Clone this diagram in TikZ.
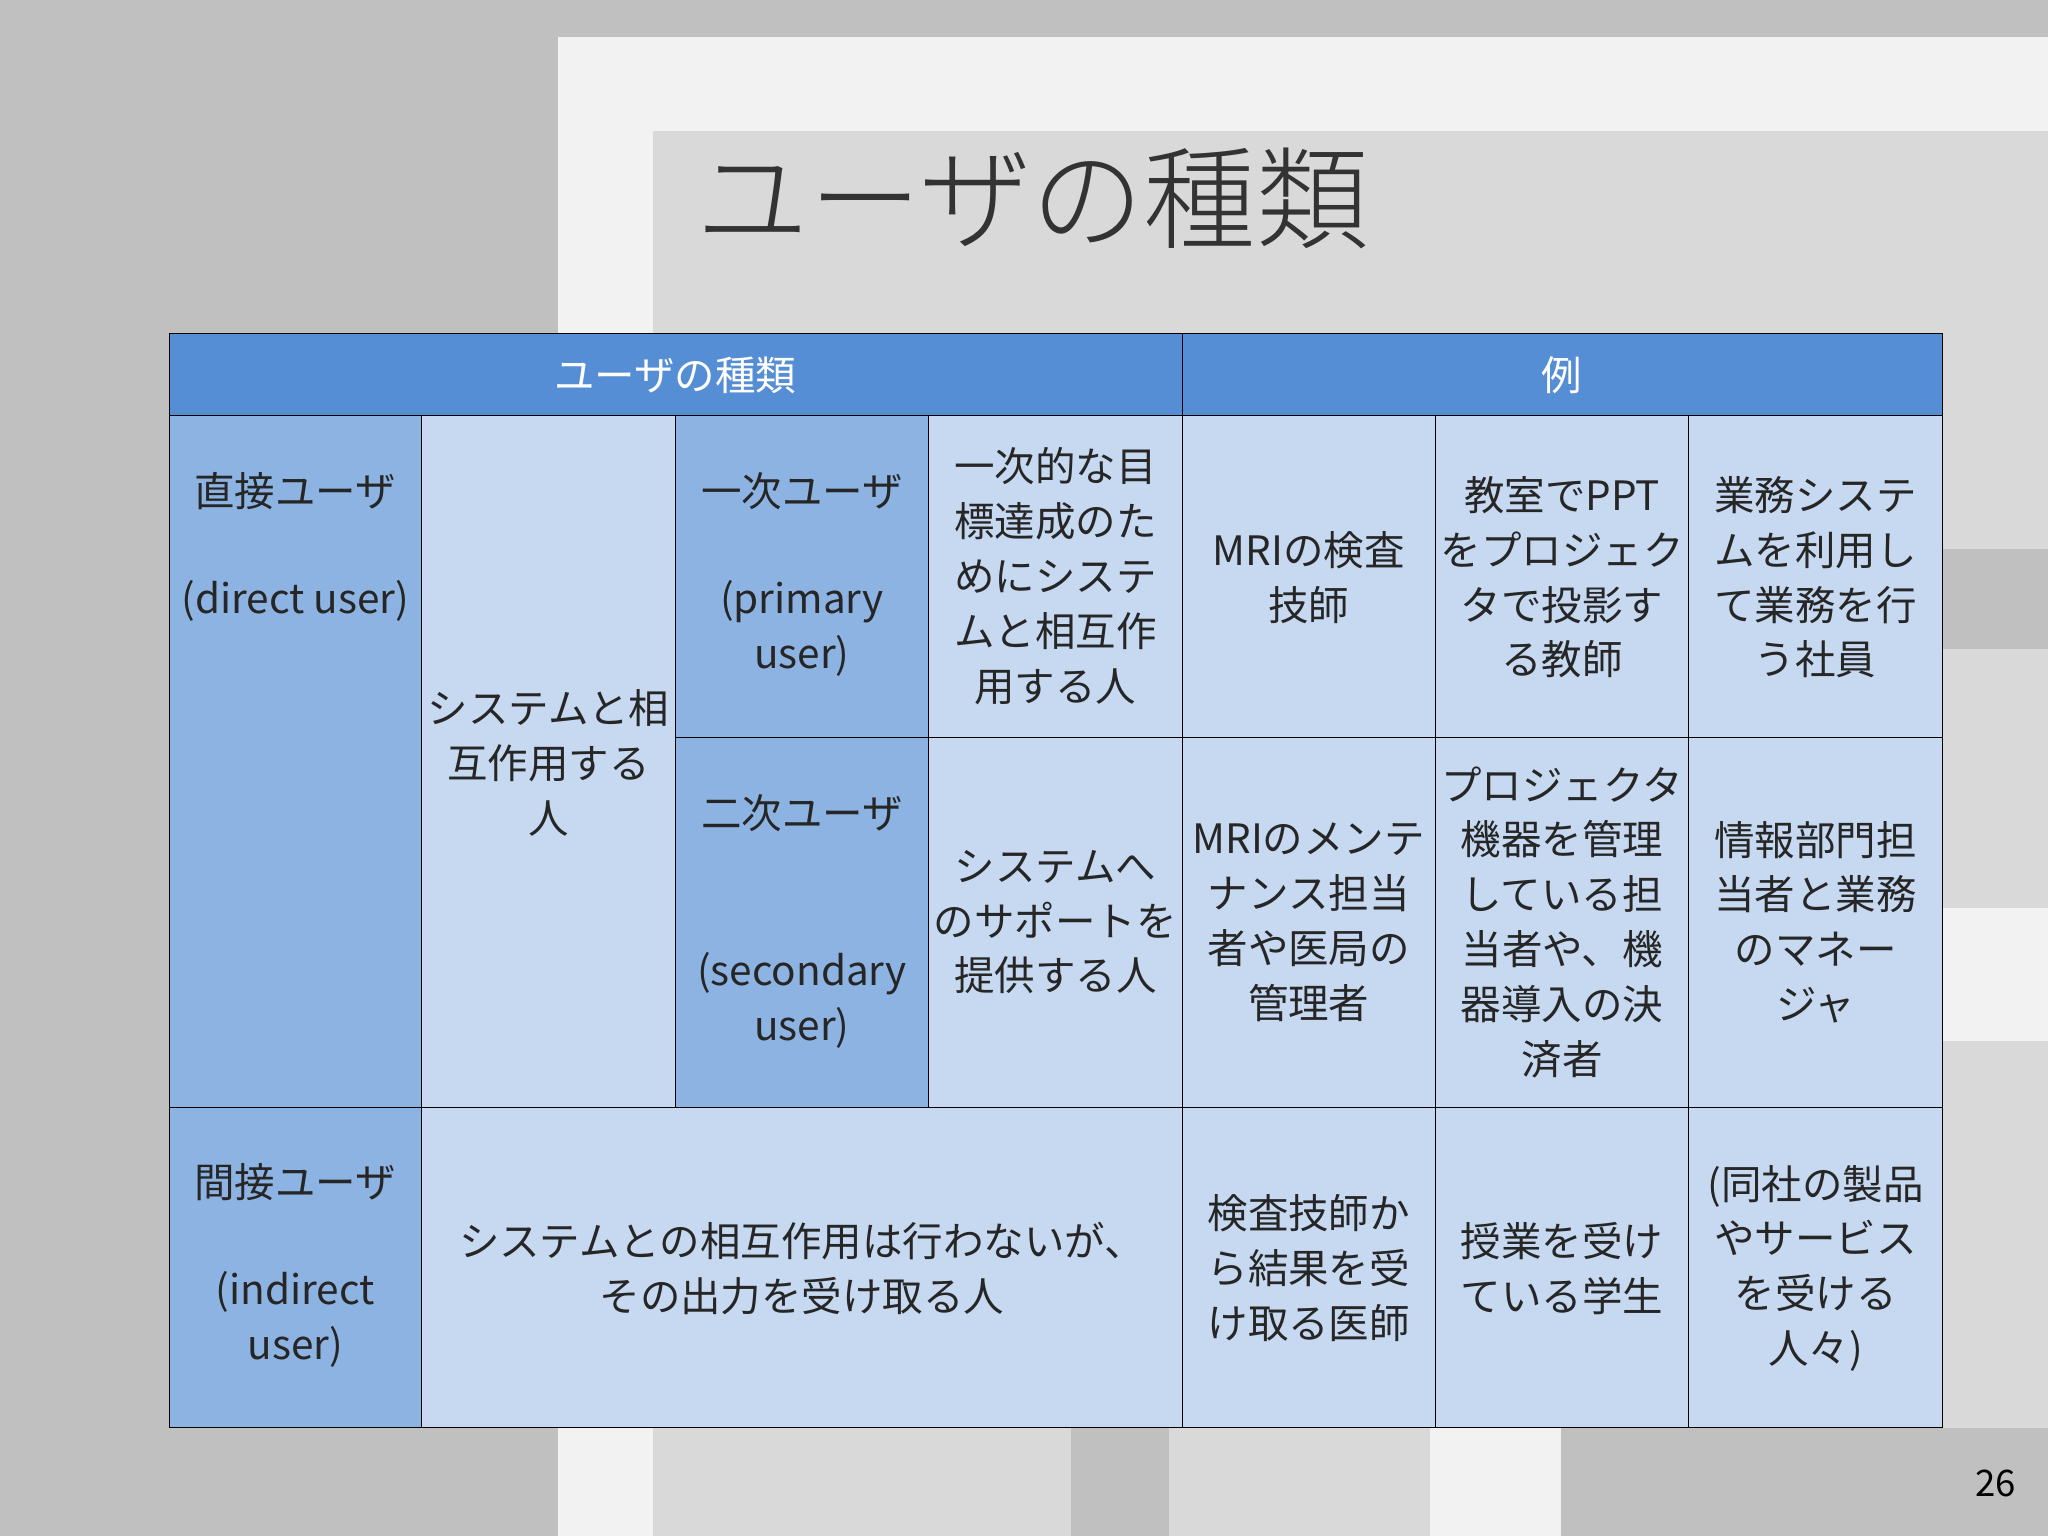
\documentclass[tikz,border=0pt]{standalone}
\usepackage{fontspec}
\newfontfamily\cjk{Noto Sans CJK JP}
\newfontfamily\cjkl{Noto Sans CJK JP Light}
\begin{document}
\begin{tikzpicture}[x=1pt,y=-1pt,
  dk/.style={fill=cellD,draw=black,line width=0.8pt},
  lt/.style={fill=cellL,draw=black,line width=0.8pt},
  hd/.style={fill=headB,draw=black,line width=0.8pt},
  tx/.style={font=\cjk\fontsize{31}{42}\selectfont,align=center,text=black!85}]
\definecolor{cellD}{HTML}{8DB3E2}
\definecolor{cellL}{HTML}{C6D9F1}
\definecolor{headB}{HTML}{558ED5}
\definecolor{bgG}{HTML}{C0C0C0}
\definecolor{bgW}{HTML}{F2F2F2}
\definecolor{bgL}{HTML}{D9D9D9}
\useasboundingbox (0,0) rectangle (1568,1176);
\fill[bgG] (0,0) rectangle (1568,1176);
\fill[bgW] (427,28) rectangle (1568,1176);
\fill[bgL] (500,100) rectangle (1568,1176);
\fill[bgG] (1487,420) rectangle (1568,497);
\fill[bgW] (1487,695) rectangle (1568,797);
\fill[bgW] (427,1093) rectangle (500,1176);
\fill[bgG] (820,1093) rectangle (895,1176);
\fill[bgW] (1095,1093) rectangle (1195,1176);
\fill[bgG] (1195,1093) rectangle (1568,1176);
\node[font=\cjkl\fontsize{86}{90}\selectfont,text=black!80,anchor=west] (title) at (530,152) {ユーザの種類};
% header
\draw[hd] (130,255) rectangle (905,318);
\draw[hd] (905,255) rectangle (1487,318);
\node[tx,text=white] (h1) at (517,287) {ユーザの種類};
\node[tx,text=white] (h2) at (1196,287) {例};
% column 1
\draw[dk] (130,318) rectangle (323,848);
\draw[dk] (130,848) rectangle (323,1093);
\draw[lt] (323,318) rectangle (517,848);
\draw[lt] (323,848) rectangle (905,1093);
\draw[dk] (517,318) rectangle (711,565);
\draw[dk] (517,565) rectangle (711,848);
\draw[lt] (711,318) rectangle (905,565);
\draw[lt] (711,565) rectangle (905,848);
\foreach \x in {905,1099,1293}{
  \draw[lt] (\x,318) rectangle (\x+194,565);
  \draw[lt] (\x,565) rectangle (\x+194,848);
  \draw[lt] (\x,848) rectangle (\x+194,1093);}
\node[tx,anchor=north] (a1) at (226,358) {直接ユーザ\\[40pt](direct user)};
\node[tx,anchor=north] (a2) at (226,887) {間接ユーザ\\[40pt](indirect\\user)};
\node[tx] (b1) at (420,584) {システムと相\\互作用する\\人};
\node[tx,anchor=north] (c1) at (614,358) {一次ユーザ\\[40pt](primary\\user)};
\node[tx,anchor=north] (c2) at (614,605) {二次ユーザ\\[78pt](secondary\\user)};
\node[tx] (d1) at (808,441) {一次的な目\\標達成のた\\めにシステ\\ムと相互作\\用する人};
\node[tx] (d2) at (808,706) {システムへ\\のサポートを\\提供する人};
\node[tx] (b2) at (614,971) {システムとの相互作用は行わないが、\\その出力を受け取る人};
\node[tx] (e1) at (1002,442) {MRIの検査\\技師};
\node[tx] (e2) at (1002,706) {MRIのメンテ\\ナンス担当\\者や医局の\\管理者};
\node[tx] (e3) at (1002,971) {検査技師か\\ら結果を受\\け取る医師};
\node[tx] (f1) at (1196,442) {教室でPPT\\をプロジェク\\タで投影す\\る教師};
\node[tx] (f2) at (1196,706) {プロジェクタ\\機器を管理\\している担\\当者や、機\\器導入の決\\済者};
\node[tx] (f3) at (1196,971) {授業を受け\\ている学生};
\node[tx] (g1) at (1390,442) {業務システ\\ムを利用し\\て業務を行\\う社員};
\node[tx] (g2) at (1390,706) {情報部門担\\当者と業務\\のマネー\\ジャ};
\node[tx] (g3) at (1390,971) {(同社の製品\\やサービス\\を受ける\\人々)};
\node[font=\cjk\fontsize{28}{30}\selectfont,text=black] (pg) at (1528,1136) {26};
\end{tikzpicture}
\end{document}
